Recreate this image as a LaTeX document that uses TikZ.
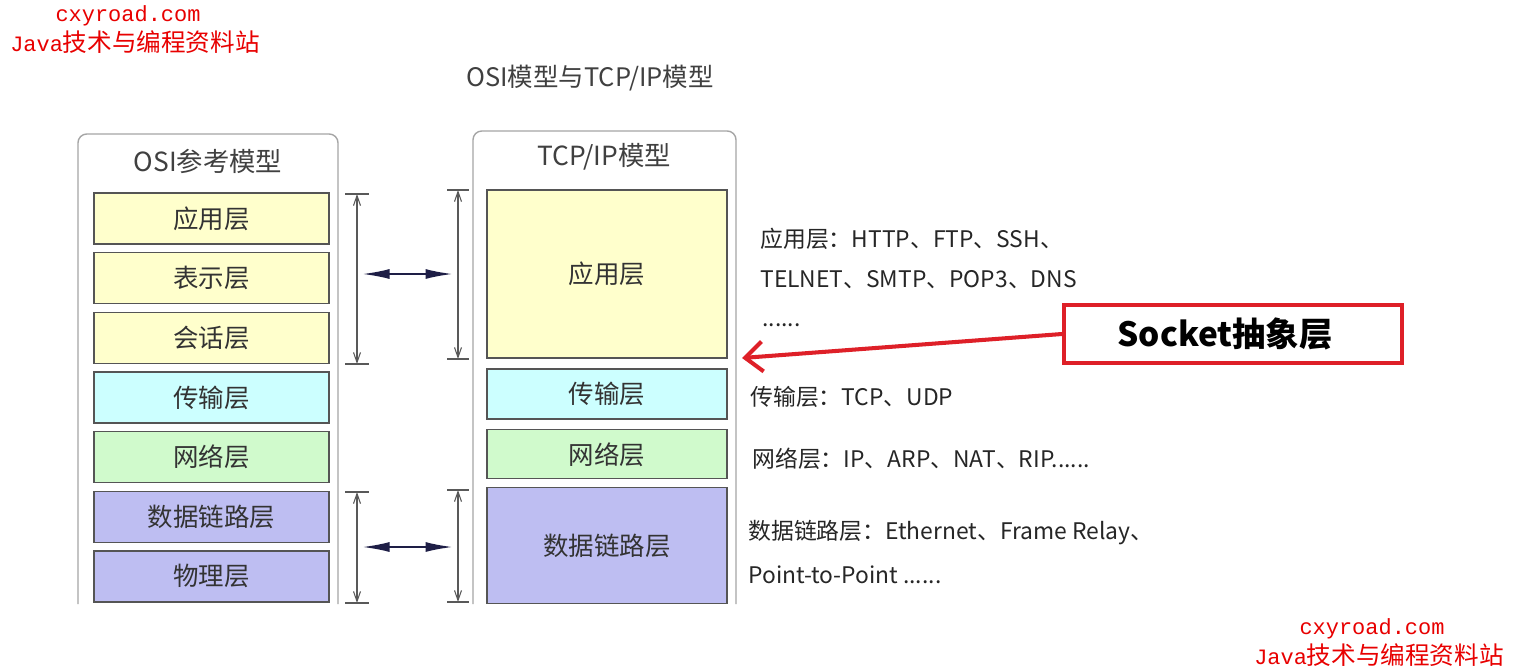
\documentclass[tikz,border=0pt]{standalone}
\usepackage{fontspec}
\setmainfont{Noto Sans CJK SC}
\newfontfamily\wmfont{Liberation Mono}
\usetikzlibrary{arrows.meta,
                positioning
            }

\definecolor{appyellow}{RGB}{255,255,204}
\definecolor{transcyan}{RGB}{204,255,255}
\definecolor{netgreen}{RGB}{208,250,204}
\definecolor{linkpurple}{RGB}{190,190,242}
\definecolor{boxgray}{RGB}{85,85,85}
\definecolor{panelgray}{RGB}{165,165,165}
\definecolor{linknavy}{RGB}{30,30,70}
\definecolor{socketred}{RGB}{222,32,40}
\definecolor{wmred}{RGB}{232,0,0}

\tikzset{
    layer/.style={draw=boxgray, line width=0.8pt, inner sep=0pt, text=black!80,
                  font=\fontsize{14.5}{16}\selectfont},
    osilayer/.style={layer, minimum width=4.7cm, minimum height=1.02cm},
    tcplayer/.style={layer, minimum width=4.8cm},
    panel/.style={draw=panelgray, line width=0.8pt, rounded corners=5pt},
    paneltitle/.style={inner sep=0pt, text=black!75, font=\fontsize{15}{17}\selectfont},
    dimline/.style={draw=black!65, line width=0.6pt,
                    {Straight Barb[length=0.2cm,width=0.14cm]}-{Straight Barb[length=0.2cm,width=0.14cm]}},
    tickbar/.style={draw=black!65, line width=0.6pt},
    link/.style={draw=linknavy, line width=1.2pt,
                 {Latex[length=0.55cm,width=0.2cm]}-{Latex[length=0.55cm,width=0.2cm]}},
    proto/.style={anchor=west, inner sep=0pt, text=black!85, font=\fontsize{13}{15}\selectfont},
    socketbox/.style={draw=socketred, line width=2.3pt, minimum width=6.76cm, minimum height=1.16cm,
                      font=\fontsize{19}{22}\selectfont\bfseries},
    socketarrow/.style={draw=socketred, line width=2.3pt,
                        -{Straight Barb[length=0.35cm,width=0.6cm]}},
    wmark/.style={text=wmred, inner sep=0pt, font=\fontsize{14}{16}\selectfont}
}

\begin{document}
\begin{tikzpicture}[x=0.02cm, y=-0.02cm]
    \useasboundingbox [fill=white] (0,0) rectangle (1514,670);

    % Title
    \node (maintitle) [paneltitle, font=\fontsize{14.5}{16}\selectfont] at (590,78) {OSI模型与TCP/IP模型};

    % OSI model
    \draw [panel] (78,604) -- (78,134) -- (338,134) -- (338,604);
    \node (osititle) [paneltitle] at (208,161) {OSI参考模型};
    \node (osiapp) [osilayer, fill=appyellow] at (211.5,218.5) {应用层};
    \node (osipre) [osilayer, fill=appyellow, below=0.145cm of osiapp] {表示层};
    \node (osises) [osilayer, fill=appyellow, below=0.145cm of osipre] {会话层};
    \node (ositrans) [osilayer, fill=transcyan, below=0.145cm of osises] {传输层};
    \node (osinet) [osilayer, fill=netgreen, below=0.145cm of ositrans] {网络层};
    \node (osidl) [osilayer, fill=linkpurple, below=0.145cm of osinet] {数据链路层};
    \node (osiphy) [osilayer, fill=linkpurple, below=0.145cm of osidl] {物理层};

    % TCP/IP model
    \draw [panel] (473,604) -- (473,131) -- (736,131) -- (736,604);
    \node (tcptitle) [paneltitle] at (604,157) {TCP/IP模型};
    \node (tcpapp) [tcplayer, minimum height=3.36cm, fill=appyellow] at (607,274) {应用层};
    \node (tcptrans) [tcplayer, minimum height=1cm, fill=transcyan, below=0.19cm of tcpapp] {传输层};
    \node (tcpnet) [tcplayer, minimum height=0.98cm, fill=netgreen, below=0.19cm of tcptrans] {网络层};
    \node (tcpdl) [tcplayer, minimum height=2.32cm, fill=linkpurple, below=0.15cm of tcpnet] {数据链路层};

    % Spans
    \coordinate (osiuptop) at (357,194);
    \coordinate (osiupbot) at (357,364);
    \coordinate (tcpuptop) at (458,190);
    \coordinate (tcpupbot) at (458,359);
    \coordinate (osilotop) at (357,492);
    \coordinate (osilobot) at (357,603);
    \coordinate (tcplotop) at (458,490);
    \coordinate (tcplobot) at (458,602);
    \draw [dimline] (osiuptop) -- (osiupbot);
    \draw [dimline] (tcpuptop) -- (tcpupbot);
    \draw [dimline] (osilotop) -- (osilobot);
    \draw [dimline] (tcplotop) -- (tcplobot);
    \draw [tickbar] (osiuptop) ++(-12,0) -- ++(24,0);
    \draw [tickbar] (osiupbot) ++(-12,0) -- ++(24,0);
    \draw [tickbar] (tcpuptop) ++(-11,0) -- ++(22,0);
    \draw [tickbar] (tcpupbot) ++(-11,0) -- ++(22,0);
    \draw [tickbar] (osilotop) ++(-12,0) -- ++(24,0);
    \draw [tickbar] (osilobot) ++(-12,0) -- ++(24,0);
    \draw [tickbar] (tcplotop) ++(-11,0) -- ++(22,0);
    \draw [tickbar] (tcplobot) ++(-11,0) -- ++(22,0);

    % Mapping arrows
    \coordinate (mapupl) at (362,274);
    \coordinate (mapupr) at (453,274);
    \coordinate (maplol) at (362,547);
    \coordinate (maplor) at (453,547);
    \draw [link] (mapupl) -- (mapupr);
    \draw [link] (maplol) -- (maplor);

    % Protocols
    \node (protoapp) [proto] at (760,239) {应用层：HTTP、FTP、SSH、};
    \node (protoapp2) [proto] at (760,280) {TELNET、SMTP、POP3、DNS};
    \node (protoapp3) [proto] at (762,325) {......};
    \node (prototrans) [proto] at (750,397) {传输层：TCP、UDP};
    \node (protonet) [proto] at (752,459) {网络层：IP、ARP、NAT、RIP......};
    \node (protodl) [proto] at (748,533) {数据链路层：Ethernet、Frame Relay、};
    \node (protodl2) [proto] at (748,575) {Point-to-Point ......};

    % Socket layer
    \node (socket) [socketbox] at (1233,334) {Socket抽象层\hspace*{0.32cm}};
    \coordinate (sockettip) at (742,358);
    \draw [socketarrow] (socket.west) -- (sockettip);

    % Watermarks
    \node (wmtopurl) [wmark, font=\wmfont\fontsize{12.5}{14}\selectfont] at (128,16) {cxyroad.com};
    \node (wmtopname) [wmark] at (135,42) {{\wmfont\fontsize{12.5}{14}\selectfont Java}技术与编程资料站};
    \node (wmboturl) [wmark, font=\wmfont\fontsize{12.5}{14}\selectfont] at (1372,629) {cxyroad.com};
    \node (wmbotname) [wmark] at (1379,655) {{\wmfont\fontsize{12.5}{14}\selectfont Java}技术与编程资料站};
\end{tikzpicture}
\end{document}
